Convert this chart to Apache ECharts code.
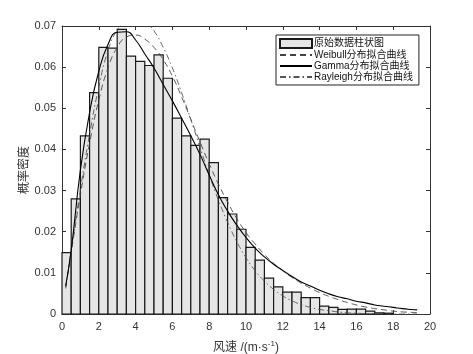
<!DOCTYPE html>
<html><head><meta charset="utf-8">
<script src="https://cdn.jsdelivr.net/npm/echarts@6/dist/echarts.min.js"></script>
<style>html,body{margin:0;padding:0;background:#fff}#c{width:473px;height:354px}</style>
</head><body><div id="c"></div>
<script>
// ---- data ----
const binWidth = 0.5;
const binLeft = [0,0.5,1,1.5,2,2.5,3,3.5,4,4.5,5,5.5,6,6.5,7,7.5,8,8.5,9,9.5,10,10.5,11,11.5,12,12.5,13,13.5,14,14.5,15,15.5,16,16.5,17,17.5];
const barValues = [0.0149,0.0280,0.0433,0.0538,0.0648,0.0646,0.0692,0.0627,0.0614,0.0604,0.0630,0.0573,0.0476,0.0433,0.0410,0.0425,0.0368,0.0283,0.0243,0.0206,0.0162,0.0131,0.0087,0.0066,0.0053,0.0053,0.0040,0.0040,0.0019,0.0016,0.0011,0.0012,0.0012,0.0007,0.0003,0.0002];
const curveX = [0.2,0.5,1,1.5,2,2.5,3,3.5,4,4.5,5,5.5,6,6.5,7,7.5,8,8.5,9,9.5,10,10.5,11,11.5,12,12.5,13,13.5,14,14.5,15,15.5,16,16.5,17,17.5,18,18.5,19,19.3];
const weibullY = [0.0065,0.0150,0.0290,0.0415,0.0520,0.0598,0.0648,0.0673,0.0678,0.0668,0.0648,0.0618,0.0578,0.0528,0.0473,0.0418,0.0365,0.0316,0.0272,0.0232,0.0198,0.0170,0.0145,0.0123,0.0105,0.0089,0.0075,0.0063,0.0052,0.0043,0.0035,0.0028,0.0022,0.0017,0.0013,0.0010,0.0007,0.0005,0.0004,0.0003];
const gammaY = [0.0068,0.0155,0.0350,0.0490,0.0590,0.0655,0.0685,0.0686,0.0666,0.0632,0.0598,0.0558,0.0518,0.0476,0.0433,0.0388,0.0338,0.0290,0.0250,0.0216,0.0186,0.0160,0.0139,0.0121,0.0106,0.0091,0.0078,0.0068,0.0058,0.0049,0.0042,0.0037,0.0031,0.0027,0.0022,0.0019,0.0016,0.0013,0.0011,0.0010];
const rayleighY = [0.0062,0.0155,0.0303,0.0437,0.0552,0.0640,0.0690,0.0712,0.0720,0.0712,0.0688,0.0648,0.0598,0.0538,0.0473,0.0405,0.0338,0.0277,0.0223,0.0176,0.0137,0.0105,0.0080,0.0060,0.0044,0.0032,0.0023,0.0016,0.0011,0.0008,0.0005,0.0003,0.0002,0.0001,0.0001,0,0,0,0,0];
const seriesNames = ['原始数据柱状图','Weibull分布拟合曲线','Gamma分布拟合曲线','Rayleigh分布拟合曲线'];
const xMin = 0, xMax = 20, xStep = 2;
const yMin = 0, yMax = 0.07, yStep = 0.01;
const xTitle = '风速 /(m·s{sup|-1})';
const yTitle = '概率密度';

// ---- chart ----
const axisColor = '#333';
const font = '"Liberation Sans", Arial, "Noto Sans CJK SC", sans-serif';
const chart = echarts.init(document.getElementById('c'), null, {renderer:'canvas'});
const pairs = ys => curveX.map((x,i)=>[x, ys[i]]);
function baseX(pos, showLabel){
  return {type:'value', min:xMin, max:xMax, interval:xStep, position:pos,
    axisLine:{show:true, onZero:false, lineStyle:{color:axisColor, width:1}},
    axisTick:{show:true, inside:true, length:4, lineStyle:{color:axisColor}},
    axisLabel:{show:showLabel, color:axisColor, fontSize:11, margin:7, fontFamily:font},
    splitLine:{show:false}};
}
function baseY(pos, showLabel){
  return {type:'value', min:yMin, max:yMax, interval:yStep, position:pos,
    axisLine:{show:true, onZero:false, lineStyle:{color:axisColor, width:1}},
    axisTick:{show:true, inside:true, length:4, lineStyle:{color:axisColor}},
    axisLabel:{show:showLabel, color:axisColor, fontSize:11, margin:6, fontFamily:font},
    splitLine:{show:false}};
}
const xb = baseX('bottom', true);
xb.name = xTitle; xb.nameLocation = 'middle'; xb.nameGap = 26; xb.nameMoveOverlap = false;
xb.nameTextStyle = {fontSize:12, color:axisColor, fontFamily:font,
  rich:{sup:{fontSize:8, color:axisColor, fontFamily:font, padding:[0,0,7,0]}}};
const yl = baseY('left', true);
yl.name = yTitle; yl.nameLocation = 'middle'; yl.nameGap = 33; yl.nameMoveOverlap = false;
yl.nameTextStyle = {fontSize:12, color:axisColor, fontFamily:'"Noto Sans CJK SC", sans-serif'};

const hideSym = {opacity:0};
chart.setOption({
  animation:false,
  backgroundColor:'#fff',
  grid:{left:62, right:43, top:26, bottom:40, containLabel:false, outerBoundsMode:'none'},
  xAxis:[xb, baseX('top', false)],
  yAxis:[yl, baseY('right', false)],
  legend:{
    orient:'vertical', left:276, top:35,
    borderColor:'#222', borderWidth:1, padding:[3,6,3,3],
    itemGap:1, itemWidth:32, itemHeight:9,
    backgroundColor:'#fff',
    textStyle:{fontSize:10, color:'#111', fontFamily:font, padding:[0,0,0,-3]},
    data:[
      {name:seriesNames[0], icon:'rect'},
      {name:seriesNames[1], itemStyle:hideSym},
      {name:seriesNames[2], itemStyle:hideSym},
      {name:seriesNames[3], itemStyle:hideSym}
    ]
  },
  series:[
    {
      name:seriesNames[0], type:'custom', xAxisIndex:0, yAxisIndex:0,
      itemStyle:{color:'#e6e6e6', borderColor:'#1a1a1a', borderWidth:1},
      encode:{x:[0,1], y:2},
      data: binLeft.map((l,i)=>[l, l+binWidth, barValues[i]]),
      renderItem:function(params, api){
        const p0 = api.coord([api.value(0), api.value(2)]);
        const p1 = api.coord([api.value(1), 0]);
        return {type:'rect', shape:{x:p0[0], y:p0[1], width:p1[0]-p0[0], height:p1[1]-p0[1]},
          style:{fill:'#e6e6e6', stroke:'#1a1a1a', lineWidth:1.2}};
      }
    },
    {name:seriesNames[1], type:'line', data:pairs(weibullY), smooth:true, symbol:'none', clip:true, z:3,
      lineStyle:{color:'#444', width:0.9, type:[6,4]}, itemStyle:{color:'#444'}},
    {name:seriesNames[2], type:'line', data:pairs(gammaY), smooth:true, symbol:'none', clip:true, z:4,
      lineStyle:{color:'#000', width:1.1, type:'solid'}, itemStyle:{color:'#000'}},
    {name:seriesNames[3], type:'line', data:pairs(rayleighY), smooth:true, symbol:'none', clip:true, z:3,
      lineStyle:{color:'#555', width:0.9, type:[6,3,1.5,3]}, itemStyle:{color:'#555'}}
  ]
});
</script>
</body></html>
